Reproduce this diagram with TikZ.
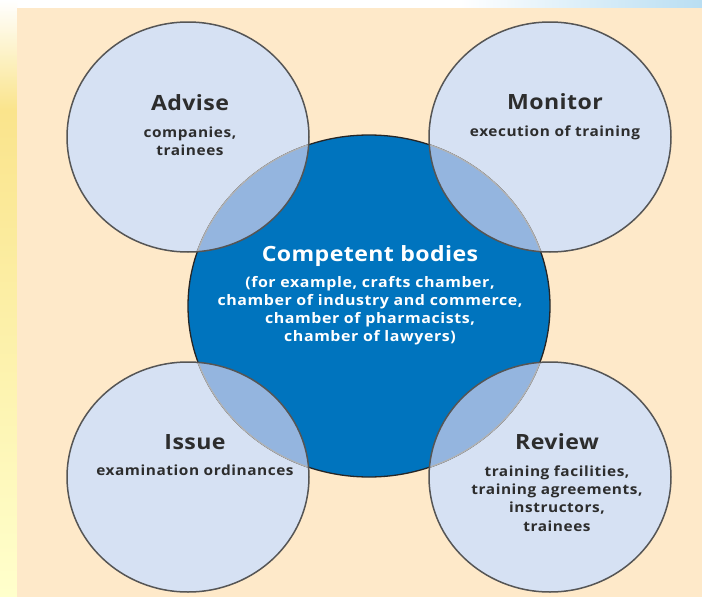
\documentclass[tikz,border=0pt]{standalone}
\usepackage{fontspec}
\setmainfont{Open Sans}[FakeStretch=1.1]
\usetikzlibrary{positioning}
\definecolor{peach}{RGB}{254,233,201}
\definecolor{paleblue}{RGB}{214,225,243}
\definecolor{deepblue}{RGB}{0,116,190}
\definecolor{lensblue}{RGB}{148,181,223}
\definecolor{rimgray}{RGB}{85,85,85}
\definecolor{txtgray}{RGB}{45,45,45}
\definecolor{skyblue}{RGB}{185,222,242}
\definecolor{stripyellow}{RGB}{250,228,140}
\tikzset{rim/.style={draw=rimgray, line width=1.5pt}}
\tikzset{corerim/.style={draw=black!85, line width=1.3pt}}
\tikzset{lensrim/.style={draw=black!30, line width=1.3pt}}
\tikzset{small/.style={x radius=121pt, y radius=115pt}}
\tikzset{big/.style={x radius=181pt, y radius=171pt}}
\tikzset{title/.style={font=\bfseries\fontsize{21}{24}\selectfont\addfontfeature{LetterSpace=2}, text=txtgray, inner sep=0pt}}
\tikzset{sub/.style={font=\bfseries\fontsize{14}{18.3}\selectfont\addfontfeature{LetterSpace=4}, text=txtgray, align=center, inner sep=0pt}}
\tikzset{coretitle/.style={title, text=white}}
\tikzset{coresub/.style={sub, text=white, font=\bfseries\fontsize{14.5}{18}\selectfont\addfontfeature{LetterSpace=4}}}

\begin{document}
\begin{tikzpicture}[x=1pt, y=-1pt]
\useasboundingbox (0,0) rectangle (702,597);
% background
\fill[white] (0,0) rectangle (702,597);
\shade[top color=white, bottom color=stripyellow] (0,0) rectangle (17,110);
\shade[top color=stripyellow, bottom color=yellow!20] (0,110) rectangle (17,597);
\shade[left color=white, right color=skyblue] (460,0) rectangle (702,8);
\fill[peach] (17,8) rectangle (702,597);
\coordinate (adv) at (188,137);
\coordinate (mon) at (550,137);
\coordinate (iss) at (188,477);
\coordinate (rev) at (550,477);
\coordinate (core) at (369,306);
% circles
\foreach \c in {adv,mon,iss,rev}
  \fill[paleblue] (\c) ellipse [small];
\fill[deepblue, corerim] (core) ellipse [big];
\begin{scope}
  \clip (core) ellipse [big];
  \foreach \c in {adv,mon,iss,rev}
    \fill[lensblue] (\c) ellipse [small];
\end{scope}
\foreach \c in {adv,mon,iss,rev}{
  \begin{scope}
    \clip (\c) ellipse [small];
    \draw[lensrim] (core) ellipse [big];
  \end{scope}
}
\foreach \c in {adv,mon,iss,rev}
  \draw[rim] (\c) ellipse [small];
% texts
\node[title] (advise) at (190,103) {Advise};
\node[sub, below=15pt of advise] (advisesub) {companies,\\trainees};
\node[title] (monitor) at (555,102) {Monitor};
\node[sub, below=15pt of monitor] (monitorsub) {execution of training};
\node[coretitle] (bodies) at (370,256) {Competent bodies};
\node[coresub, below=10pt of bodies] (bodiessub) {(for example, crafts chamber,\\chamber of industry and commerce,\\chamber of pharmacists,\\chamber of lawyers)};
\node[title] (issue) at (195,442) {Issue};
\node[sub, below=15pt of issue] (issuesub) {examination ordinances};
\node[title] (review) at (557,442) {Review};
\node[sub, below=15pt of review] (reviewsub) {training facilities,\\training agreements,\\instructors,\\trainees};
\end{tikzpicture}
\end{document}
